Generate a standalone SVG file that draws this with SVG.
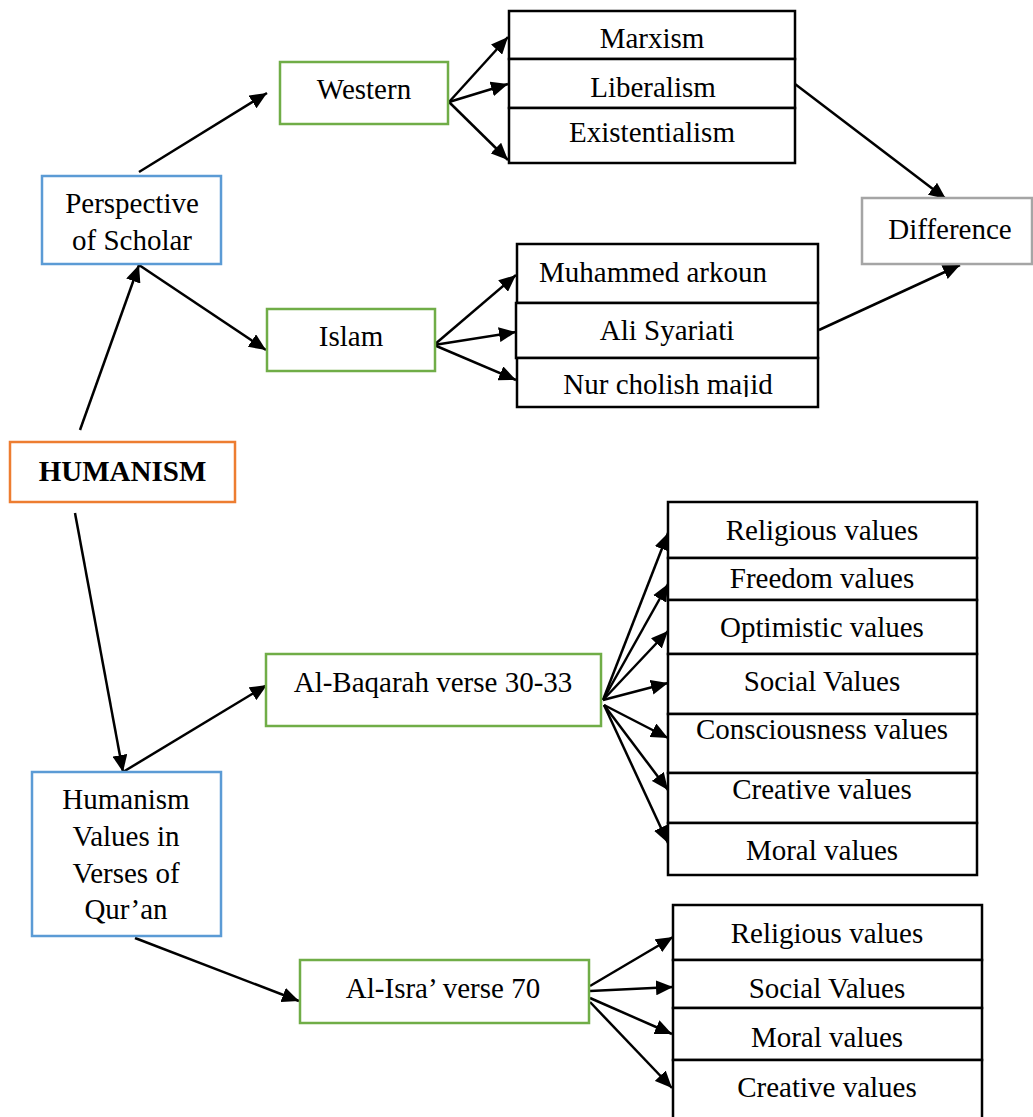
<svg xmlns="http://www.w3.org/2000/svg" width="1033" height="1117" viewBox="0 0 1033 1117">
<style>
text{font-family:"Liberation Serif","Times New Roman",serif;font-size:29px;fill:#000;text-anchor:middle}
.b{font-weight:bold}
rect{fill:#fff;stroke-width:2.5}
.blue{stroke:#5B9BD5}.green{stroke:#70AD47}.orange{stroke:#ED7D31}.gray{stroke:#A5A5A5}.blk{stroke:#000}
.c line{stroke:#000;stroke-width:2.5;marker-end:url(#ah)}
</style>
<defs>
<marker id="ah" markerUnits="userSpaceOnUse" markerWidth="17" markerHeight="15" refX="17" refY="7.5" orient="auto"><path d="M0,0 L17,7.5 L0,15 z" fill="#000"/></marker>
<clipPath id="nurclip"><rect x="517" y="358" width="301" height="39"/></clipPath>
</defs>
<g id="connectors" class="c">
<line x1="80" y1="430" x2="139" y2="265"/>
<line x1="139" y1="172" x2="267" y2="93"/>
<line x1="139" y1="265" x2="266" y2="350"/>
<line x1="449" y1="102" x2="508" y2="37"/>
<line x1="449" y1="102" x2="508" y2="84"/>
<line x1="449" y1="102" x2="508" y2="160"/>
<line x1="795" y1="84" x2="946" y2="199"/>
<line x1="434" y1="345" x2="516" y2="275"/>
<line x1="434" y1="345" x2="516" y2="332"/>
<line x1="434" y1="345" x2="516" y2="380"/>
<line x1="819" y1="330" x2="960" y2="265"/>
<line x1="75" y1="513" x2="123" y2="772"/>
<line x1="123" y1="772" x2="267" y2="685"/>
<line x1="603" y1="700" x2="668" y2="533"/>
<line x1="603" y1="700" x2="668" y2="584"/>
<line x1="603" y1="700" x2="668" y2="631"/>
<line x1="603" y1="700" x2="668" y2="683"/>
<line x1="604" y1="705" x2="668" y2="738"/>
<line x1="604" y1="705" x2="668" y2="790"/>
<line x1="604" y1="705" x2="668" y2="843"/>
<line x1="135" y1="938" x2="299" y2="1001"/>
<line x1="590" y1="986" x2="673" y2="937"/>
<line x1="590" y1="991" x2="673" y2="987"/>
<line x1="590" y1="998" x2="672" y2="1034"/>
<line x1="590" y1="1002" x2="672" y2="1088"/>
</g>
<g id="humanism"><rect class="orange" x="10" y="442" width="225" height="60"/><text class="b" x="122.5" y="481">HUMANISM</text></g>
<g id="perspective"><rect class="blue" x="42" y="176" width="179" height="88"/><text x="132" y="213">Perspective</text><text x="132" y="250">of Scholar</text></g>
<g id="western"><rect class="green" x="280" y="62" width="168" height="62"/><text x="364" y="99">Western</text></g>
<g id="islam"><rect class="green" x="267" y="309" width="168" height="62"/><text x="351" y="346">Islam</text></g>
<g id="western-list">
<rect class="blk" x="509" y="11" width="286" height="48"/><text x="652" y="48">Marxism</text>
<rect class="blk" x="509" y="59" width="286" height="49"/><text x="653" y="97">Liberalism</text>
<rect class="blk" x="509" y="108" width="286" height="55"/><text x="652" y="142">Existentialism</text>
</g>
<g id="islam-list">
<rect class="blk" x="517" y="244" width="301" height="59"/><text x="653" y="282">Muhammed arkoun</text>
<rect class="blk" x="516" y="303" width="302" height="55"/><text x="667" y="340">Ali Syariati</text>
<rect class="blk" x="517" y="358" width="301" height="49"/><text x="668" y="394" clip-path="url(#nurclip)">Nur cholish majid</text>
</g>
<g id="difference"><rect class="gray" x="862" y="198" width="170" height="66"/><text x="950" y="239">Difference</text></g>
<g id="values-verses"><rect class="blue" x="32" y="772" width="189" height="164"/><text x="126" y="809">Humanism</text><text x="126" y="846">Values in</text><text x="126" y="883">Verses of</text><text x="126" y="919">Qur’an</text></g>
<g id="baqarah"><rect class="green" x="266" y="654" width="335" height="72"/><text x="433" y="692">Al-Baqarah verse 30-33</text></g>
<g id="baqarah-values">
<rect class="blk" x="668" y="502" width="309" height="56"/><text x="822" y="540">Religious values</text>
<rect class="blk" x="668" y="558" width="309" height="42"/><text x="822" y="588">Freedom values</text>
<rect class="blk" x="668" y="600" width="309" height="54"/><text x="822" y="637">Optimistic values</text>
<rect class="blk" x="668" y="654" width="309" height="60"/><text x="822" y="691">Social Values</text>
<rect class="blk" x="668" y="714" width="309" height="59"/><text x="822" y="739">Consciousness values</text>
<rect class="blk" x="668" y="773" width="309" height="50"/><text x="822" y="799">Creative values</text>
<rect class="blk" x="668" y="823" width="309" height="52"/><text x="822" y="860">Moral values</text>
</g>
<g id="isra"><rect class="green" x="300" y="960" width="289" height="63"/><text x="443" y="998">Al-Isra’ verse 70</text></g>
<g id="isra-values">
<rect class="blk" x="673" y="905" width="309" height="55"/><text x="827" y="943">Religious values</text>
<rect class="blk" x="673" y="960" width="309" height="48"/><text x="827" y="998">Social Values</text>
<rect class="blk" x="673" y="1008" width="309" height="52"/><text x="827" y="1047">Moral values</text>
<rect class="blk" x="673" y="1060" width="309" height="70"/><text x="827" y="1097">Creative values</text>
</g>
</svg>
